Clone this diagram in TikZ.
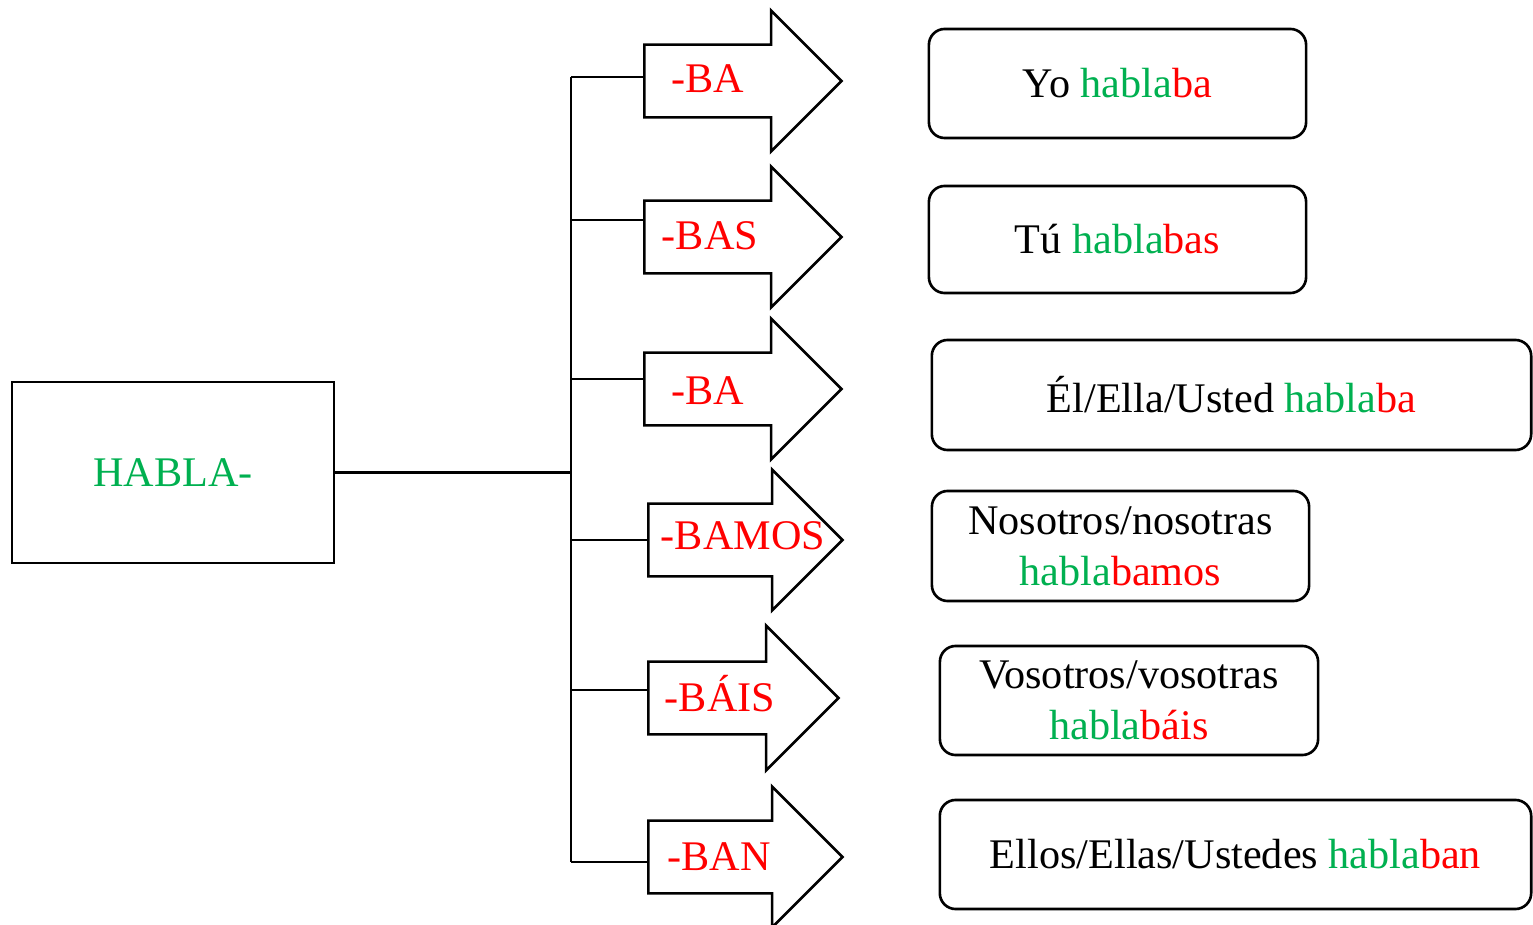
\documentclass[tikz,border=0pt]{standalone}
\usepackage{fontspec}
\setmainfont{Liberation Serif}
\usepackage{tikz}
\usetikzlibrary{arrows,shapes.arrows}

\definecolor{verde}{RGB}{0,176,80}
\definecolor{rojo}{RGB}{255,0,0}

\begin{document}
\begin{tikzpicture}[x=0.01cm,y=-0.01cm,line width=0.75pt,
                    every node/.style={font=\fontsize{12}{14.5}\selectfont},
                    raiz/.style={draw,rectangle,minimum width=3.22cm,minimum height=1.81cm,text=verde},
                    flecha/.style={draw,single arrow,anchor=tail,single arrow head extend=0.34cm,
                                   single arrow tip angle=90,single arrow head indent=0pt,
                                   inner xsep=0pt,inner ysep=0.35cm,minimum width=0pt,minimum height=1.97cm},
                    sufijo/.style={anchor=base,text=rojo,inner sep=0pt},
                    forma/.style={draw,rectangle,rounded corners=4.5pt,align=center,
                                  minimum width=3.77cm,minimum height=1.09cm}]
  \useasboundingbox (0,0) rectangle (1533,925);

  \node[raiz]   (habla) at (173,472.5) {HABLA-};

  \coordinate (j1) at (571,77);
  \coordinate (j2) at (571,220);
  \coordinate (j3) at (571,379);
  \coordinate (j4) at (571,540);
  \coordinate (j5) at (571,690);
  \coordinate (j6) at (571,862);

  \node[flecha] (a1) at (643,81)  {};
  \node[flecha] (a2) at (643,237) {};
  \node[flecha] (a3) at (643,389) {};
  \node[flecha,minimum height=1.94cm] (a4) at (647,540) {};
  \node[flecha,minimum height=1.90cm,single arrow head extend=0.36cm] (a5) at (647,698) {};
  \node[flecha,minimum height=1.94cm] (a6) at (647,857) {};

  \node[sufijo] (s1) at (708,93)  {-BA};
  \node[sufijo] (s2) at (710,250) {-BAS};
  \node[sufijo] (s3) at (708,405) {-BA};
  \node[sufijo] (s4) at (743,550) {-BAMOS};
  \node[sufijo] (s5) at (720,712) {-BÁIS};
  \node[sufijo] (s6) at (719,870) {-BAN};

  \node[forma] (yo)  at (1117.5,83.5) {Yo \textcolor{verde}{habla}\textcolor{rojo}{ba}};
  \node[forma,minimum height=1.07cm] (tu) at (1117.5,239.5) {Tú \textcolor{verde}{habla}\textcolor{rojo}{bas}};
  \node[forma,minimum width=5.99cm,minimum height=1.10cm] (el) at (1231.5,395)
        {Él/Ella/Usted \textcolor{verde}{habla}\textcolor{rojo}{ba}};
  \node[forma,minimum height=1.10cm] (nos) at (1120.5,546)
        {Nosotros/nosotras\\ \textcolor{verde}{habla}\textcolor{rojo}{bamos}};
  \node[forma,minimum width=3.78cm] (vos) at (1129,700.5)
        {Vosotros/vosotras\\ \textcolor{verde}{habla}\textcolor{rojo}{báis}};
  \node[forma,minimum width=5.91cm] (ellos) at (1235.5,854.5)
        {Ellos/Ellas/Ustedes \textcolor{verde}{habla}\textcolor{rojo}{ban}};

  % tronco y ramas
  \draw (habla.east) -- (habla.east -| j1);
  \draw (j1) -- (j6);
  \draw (j1) -- (j1 -| a1.tail);
  \draw (j2) -- (j2 -| a2.tail);
  \draw (j3) -- (j3 -| a3.tail);
  \draw (j4) -- (j4 -| a4.tail);
  \draw (j5) -- (j5 -| a5.tail);
  \draw (j6) -- (j6 -| a6.tail);

\end{tikzpicture}
\end{document}
